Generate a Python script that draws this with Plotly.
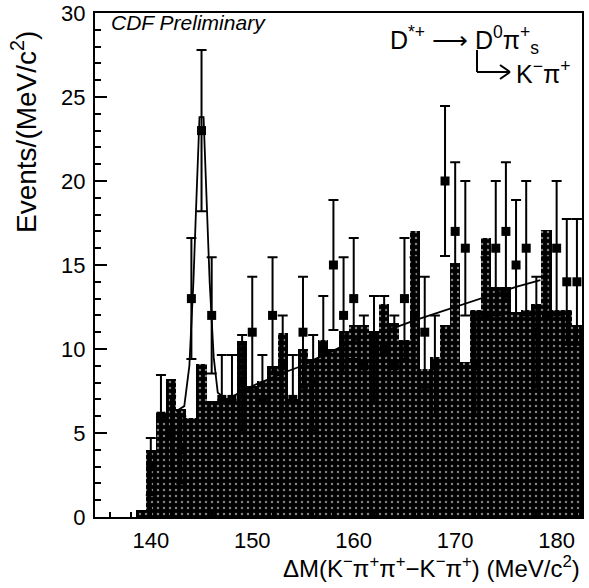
import plotly.graph_objects as go

# ---- data ----
bins = list(range(139, 183))
bkg = [0.4, 4.0, 6.2, 8.2, 6.4, 5.9, 9.1, 6.9, 7.0, 7.0,
       10.45, 7.8, 8.1, 9.0, 10.95, 7.0, 10.0, 9.4, 10.55, 10.0,
       11.05, 11.45, 11.45, 11.05, 12.7, 11.55, 10.55, 17.0, 8.8, 9.55,
       11.45, 15.1, 9.2, 12.3, 16.6, 13.7, 13.7, 12.2, 12.3, 12.7,
       17.1, 12.3, 12.3, 11.45]

data_x = list(range(140, 183))
data_y = [3, 6, 5, 4, 13, 23, 12, 7, 7, 8,
          11, 7, 12, 9, 7, 11, 8, 10, 15, 12,
          13, 9, 10, 10, 9, 13, 12, 11, 9, 20,
          17, 16, 9, 12, 16, 17, 15, 16, 11, 12,
          16, 14, 14]
data_err = [1.7, 2.45, 2.2, 2.0, 3.6, 4.8, 3.46, 2.65, 2.65, 2.83,
            3.3, 2.65, 3.46, 3.0, 2.65, 3.3, 2.83, 3.16, 3.87, 3.46,
            3.6, 3.0, 3.16, 3.16, 3.0, 3.6, 3.46, 3.3, 3.0, 4.47,
            4.12, 4.0, 3.0, 3.46, 4.0, 4.12, 3.87, 4.0, 3.3, 3.46,
            4.0, 3.74, 3.74]

fit_x = [142.5, 143.3, 143.8, 144.2, 144.5, 144.8, 145.2, 145.5, 145.8,
         146.2, 146.6, 147.5, 148.5, 150.0, 152.0, 153.4, 155.2, 156.2,
         158.0, 160.0, 162.0, 164.4, 166.0, 168.0, 170.0, 172.0, 174.0,
         176.0, 178.4]
fit_y = [6.3, 6.6, 9.0, 14.0, 19.0, 23.8, 23.8, 19.0, 14.0,
         9.5, 7.4, 7.0, 7.3, 7.8, 8.3, 8.66, 9.06, 9.4,
         9.9, 10.5, 10.9, 11.35, 11.7, 12.1, 12.5, 12.9, 13.3,
         13.7, 14.1]

x_ticks = [140, 150, 160, 170, 180]
y_ticks = [0, 5, 10, 15, 20, 25, 30]

FONT = "Liberation Sans, Arial, Helvetica, sans-serif"

W, H = 589, 588
PL, PT, PW, PH = 95, 13, 487, 504  # plot area in pixels

fig = go.Figure()

fig.add_trace(go.Bar(
    x=bins, y=bkg, width=1.0,
    marker=dict(color="black", line=dict(width=0),
                pattern=dict(shape=".", fgcolor="white", bgcolor="black",
                             size=6, solidity=0.14, fillmode="overlay")),
    showlegend=False, hoverinfo="skip"))

fig.add_trace(go.Scatter(
    x=fit_x, y=fit_y, mode="lines",
    line=dict(color="black", width=1.8),
    showlegend=False, hoverinfo="skip"))

fig.add_trace(go.Scatter(
    x=data_x, y=data_y, mode="markers",
    marker=dict(symbol="square", size=9, color="black"),
    error_y=dict(type="data", array=data_err, color="black",
                 thickness=2, width=5),
    showlegend=False))

fig.update_layout(
    width=W, height=H,
    margin=dict(l=PL, r=W - PL - PW, t=PT, b=H - PT - PH, autoexpand=False),
    paper_bgcolor="white", plot_bgcolor="white",
    bargap=0,
    font=dict(family=FONT, color="black", size=22),
    xaxis=dict(range=[134.5, 182.5], tickvals=x_ticks,
               ticktext=[str(v) for v in x_ticks],
               ticks="inside", ticklen=10, tickwidth=1.5, tickcolor="black",
               minor=dict(ticks="inside", ticklen=5, dtick=2, tickcolor="black"),
               showline=True, linewidth=2, linecolor="black", mirror=True,
               showgrid=False, zeroline=False,
               ticklabelstandoff=3, ticklabeloverflow="allow",
               tickfont=dict(size=22, family=FONT)),
    yaxis=dict(range=[0, 30], tickvals=y_ticks,
               ticktext=[str(v) for v in y_ticks],
               ticks="inside", ticklen=12, tickwidth=1.5, tickcolor="black",
               minor=dict(ticks="inside", ticklen=6, dtick=1, tickcolor="black"),
               showline=True, linewidth=2, linecolor="black", mirror=True,
               showgrid=False, zeroline=False,
               ticklabelstandoff=3, ticklabeloverflow="allow",
               tickfont=dict(size=22, family=FONT)),
)


def px(x):
    return (x - PL) / PW


def py(y):
    return (PT + PH - y) / PH


ann = [
    dict(text="<i>CDF Preliminary</i>", x=px(109), y=py(22), xanchor="left",
         yanchor="middle", font=dict(size=21)),
    dict(text="D<sup>*+</sup> ⟶ D<sup>0</sup>π<sup>+</sup><sub>s</sub>",
         x=px(388), y=py(40), xanchor="left", yanchor="middle",
         font=dict(size=25)),
    dict(text="K<sup>−</sup>π<sup>+</sup>",
         x=px(514), y=py(72), xanchor="left", yanchor="middle",
         font=dict(size=25)),
    dict(text="Events/(MeV/c<sup>2</sup>)", textangle=-90,
         x=px(24), y=py(132), xanchor="center", yanchor="middle",
         font=dict(size=28)),
    dict(text="ΔM(K<sup>−</sup>π<sup>+</sup>π<sup>+</sup>−K<sup>−</sup>π<sup>+</sup>) (MeV/c<sup>2</sup>)",
         x=px(582), y=py(567), xanchor="right", yanchor="middle",
         font=dict(size=24)),
]
for a in ann:
    a.update(xref="paper", yref="paper", showarrow=False)
    fig.add_annotation(**a)

# hooked arrow "└→" of the decay label
hook = dict(xref="paper", yref="paper", type="line",
            line=dict(color="black", width=2))
fig.add_shape(x0=px(477), y0=py(50), x1=px(477), y1=py(72), **hook)
fig.add_shape(x0=px(477), y0=py(72), x1=px(510), y1=py(72), **hook)
fig.add_shape(x0=px(500), y0=py(65), x1=px(510), y1=py(72), **hook)
fig.add_shape(x0=px(500), y0=py(79), x1=px(510), y1=py(72), **hook)

fig.write_html("out.html", config={"displayModeBar": False},
               post_script="document.body.style.margin='0px';")
